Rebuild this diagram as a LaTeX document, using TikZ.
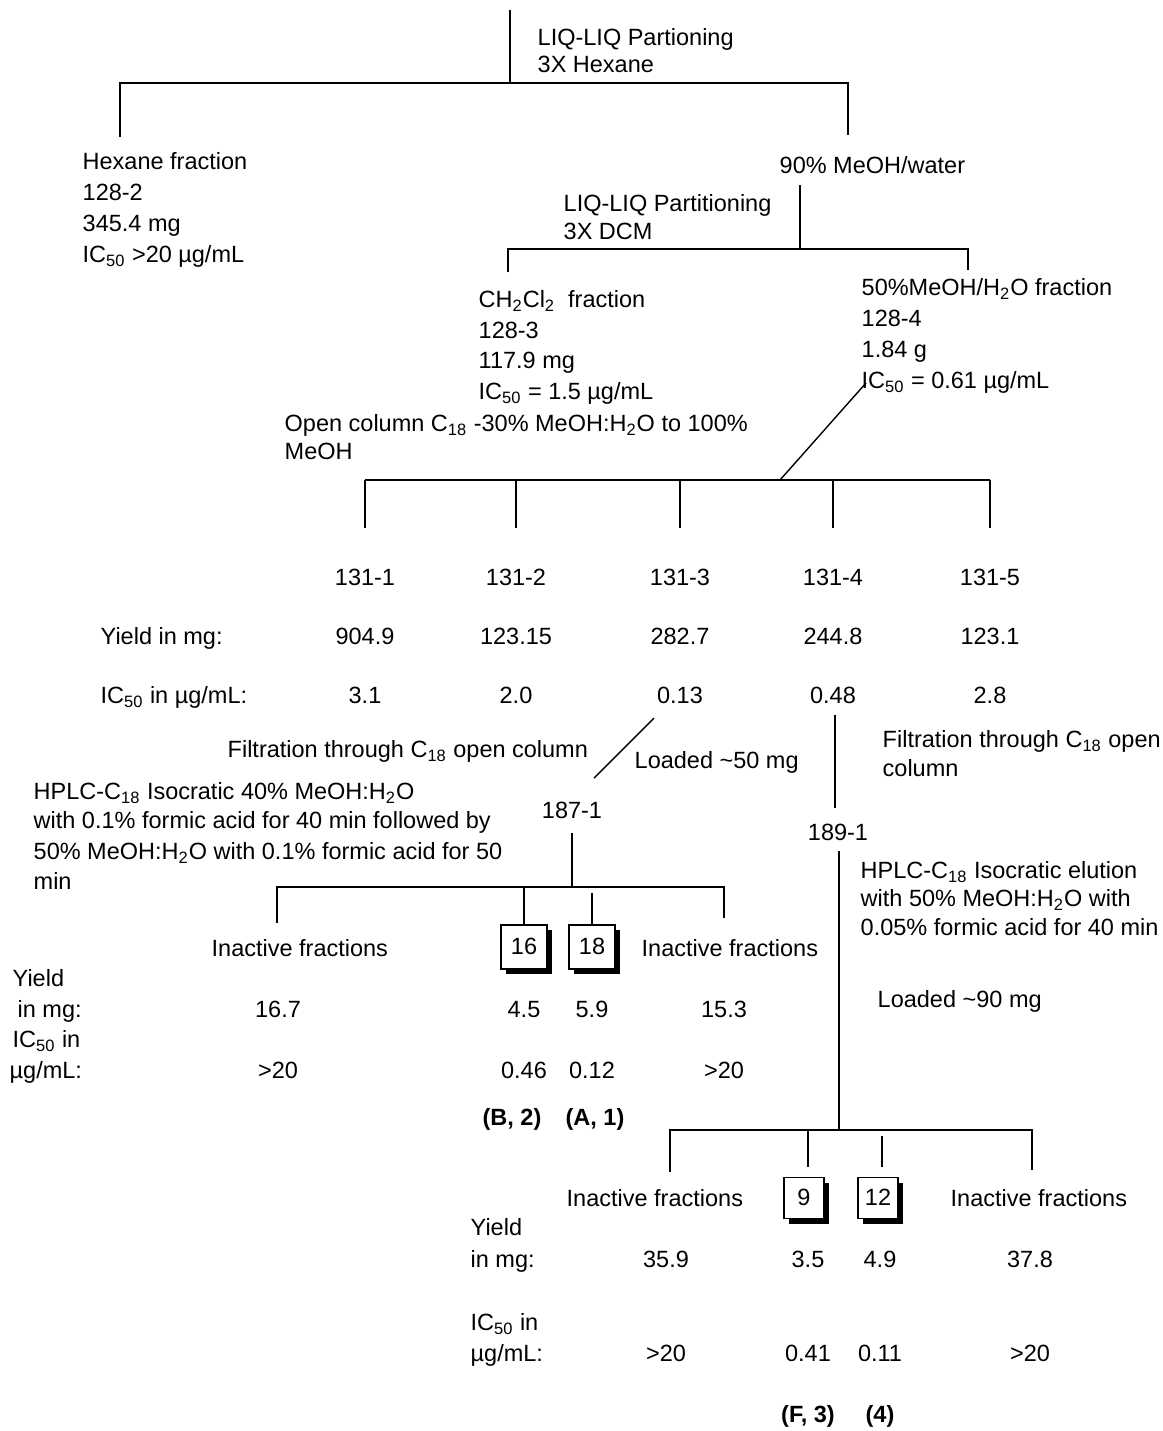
\documentclass[tikz,border=0pt]{standalone}
\usepackage{fontspec}
\setmainfont{Liberation Sans}
\usetikzlibrary{shadows}
\newcommand{\lowtxt}[1]{\textsubscript{#1}}

\begin{document}
\begin{tikzpicture}[x=0.5pt,y=-0.5pt,line width=0.7pt,
    every node/.style={inner sep=0pt,font=\fontsize{11.75}{14}\selectfont},
    txt/.style={anchor=west,text height=1.4ex,text depth=0pt},
    num/.style={text height=1.4ex,text depth=0pt},
    cpd/.style={num,font=\bfseries\fontsize{11.75}{14}\selectfont},
    fracbox/.style={draw,fill=white,num,minimum width=23pt,minimum height=22pt,
      drop shadow={shadow xshift=2.5pt,shadow yshift=-2.5pt,fill=black,opacity=1}},
    smallbox/.style={fracbox,minimum width=20pt,minimum height=20.5pt}]
  \useasboundingbox (0,0) rectangle (1163,1431);

  % first partitioning
  \coordinate (top) at (510,10);
  \coordinate (j1) at (510,83);
  \coordinate (b1l) at (120,83);
  \coordinate (b1r) at (848,83);
  \coordinate (hexup) at (120,137);
  \coordinate (meup) at (848,135);
  \node[txt] (liq1a) at (537,38) {LIQ-LIQ Partioning};
  \node[txt] (liq1b) at (537,65) {3X Hexane};
  \draw (top) -- (j1);
  \draw (hexup) -- (b1l) -- (b1r) -- (meup);
  \foreach \t [count=\i] in {Hexane fraction, 128-2, 345.4 mg, IC\lowtxt{50} >20 µg/mL}
    \node[txt] (hex\i) at (82,{162+31*(\i-1)}) {\t};
  \node[txt] (meoh) at (779,166) {90\% MeOH/water};

  % second partitioning
  \coordinate (j2) at (800,185);
  \coordinate (b2m) at (800,249);
  \coordinate (b2l) at (508,249);
  \coordinate (b2r) at (968,249);
  \coordinate (dcmup) at (508,272);
  \coordinate (aqup) at (968,270);
  \node[txt] (liq2a) at (563,204) {LIQ-LIQ Partitioning};
  \node[txt] (liq2b) at (563,232) {3X DCM};
  \draw (j2) -- (b2m);
  \draw (dcmup) -- (b2l) -- (b2r) -- (aqup);
  \foreach \t [count=\i] in {CH\lowtxt{2}Cl\lowtxt{2}~ fraction, 128-3, 117.9 mg, IC\lowtxt{50} = 1.5 µg/mL}
    \node[txt] (dcm\i) at (478,{300+30.7*(\i-1)}) {\t};
  \foreach \t [count=\i] in {50\%MeOH/H\lowtxt{2}O fraction, 128-4, 1.84 g, IC\lowtxt{50} = 0.61 µg/mL}
    \node[txt] (aq\i) at (861,{288+31*(\i-1)}) {\t};

  % open column
  \node[txt] (oc1) at (284,424) {Open column C\lowtxt{18} -30\% MeOH:H\lowtxt{2}O to 100\%};
  \node[txt] (oc2) at (284,452) {MeOH};
  \coordinate (d1a) at (866,383);
  \coordinate (d1b) at (780,480);
  \draw (d1a) -- (d1b);
  \draw (365,480) -- (990,480);
  \node[txt] (yl1) at (100,637) {Yield in mg:};
  \node[txt] (ic1) at (100,696) {IC\lowtxt{50} in µg/mL:};
  \foreach \x/\id/\yv/\icv [count=\i] in {365/131-1/904.9/3.1, 516/131-2/123.15/2.0,
      680/131-3/282.7/0.13, 833/131-4/244.8/0.48, 990/131-5/123.1/2.8} {
    \coordinate (c\i) at (\x,480);
    \coordinate (cd\i) at (\x,528);
    \draw (c\i) -- (cd\i);
    \node[num] (f\i) at (\x,578) {\id};
    \node[num] (fy\i) at (\x,637) {\yv};
    \node[num] (fi\i) at (\x,696) {\icv};
  }

  % 131-3 branch
  \node[txt] (filt1) at (227,750) {Filtration through C\lowtxt{18} open column};
  \node[txt] (load1) at (634,761) {Loaded \textasciitilde50 mg};
  \coordinate (d2a) at (654,718);
  \coordinate (d2b) at (594,778);
  \draw (d2a) -- (d2b);
  \node[num] (n187) at (572,811) {187-1};
  \foreach \t/\yy [count=\i] in {HPLC-C\lowtxt{18} Isocratic 40\% MeOH:H\lowtxt{2}O/792,
      with 0.1\% formic acid for 40 min followed by/821,
      50\% MeOH:H\lowtxt{2}O with 0.1\% formic acid for 50/852, min/882}
    \node[txt] (hp\i) at (33,\yy) {\t};
  \coordinate (j187) at (572,833);
  \coordinate (b4m) at (572,887);
  \coordinate (b4l) at (277,887);
  \coordinate (b4r) at (724,887);
  \node[fracbox] (box16) at (524,947) {16};
  \node[fracbox] (box18) at (592,947) {18};
  \draw (j187) -- (b4m);
  \draw (277,923) -- (b4l) -- (b4r) -- (724,918);
  \draw (524,887) -- (box16.north);
  \draw (592,893) -- (box18.north);
  \node[txt] (ina1) at (211,949) {Inactive fractions};
  \node[txt] (ina2) at (641,949) {Inactive fractions};
  \node[txt] (yl2a) at (12,979) {Yield};
  \node[txt] (yl2b) at (17,1010) {in mg:};
  \node[txt] (ic2a) at (12,1040) {IC\lowtxt{50} in};
  \node[txt] (ic2b) at (9,1071) {µg/mL:};
  \foreach \x/\yv/\icv [count=\i] in {278/16.7/>20, 524/4.5/0.46, 592/5.9/0.12, 724/15.3/>20} {
    \node[num] (gy\i) at (\x,1010) {\yv};
    \node[num] (gi\i) at (\x,1071) {\icv};
  }
  \node[cpd] (cpdB) at (512,1118) {(B, 2)};
  \node[cpd] (cpdA) at (595,1118) {(A, 1)};

  % 131-4 branch
  \coordinate (v4a) at (835,715);
  \coordinate (v4b) at (835,808);
  \draw (v4a) -- (v4b);
  \node[txt] (filt2a) at (882,740) {Filtration through C\lowtxt{18} open};
  \node[txt] (filt2b) at (882,769) {column};
  \node[num] (n189) at (838,833) {189-1};
  \foreach \t [count=\i] in {HPLC-C\lowtxt{18} Isocratic elution, with 50\% MeOH:H\lowtxt{2}O with,
      0.05\% formic acid for 40 min}
    \node[txt] (he\i) at (860,{871+28.5*(\i-1)}) {\t};
  \node[txt] (load2) at (877,1000) {Loaded \textasciitilde90 mg};
  \coordinate (j189) at (839,851);
  \coordinate (b5m) at (839,1130);
  \coordinate (b5l) at (670,1130);
  \coordinate (b5r) at (1032,1130);
  \node[smallbox] (box9) at (804,1198) {9};
  \node[smallbox] (box12) at (878,1198) {12};
  \draw (j189) -- (b5m);
  \draw (670,1172) -- (b5l) -- (b5r) -- (1032,1170);
  \draw (808,1130) -- (808,1167);
  \draw (882,1136) -- (882,1167);
  \node[txt] (ina3) at (566,1199) {Inactive fractions};
  \node[txt] (ina4) at (950,1199) {Inactive fractions};
  \node[txt] (yl3a) at (470,1228) {Yield};
  \node[txt] (yl3b) at (470,1260) {in mg:};
  \node[txt] (ic3a) at (470,1323) {IC\lowtxt{50} in};
  \node[txt] (ic3b) at (470,1354) {µg/mL:};
  \foreach \x/\yv/\icv [count=\i] in {666/35.9/>20, 808/3.5/0.41, 880/4.9/0.11, 1030/37.8/>20} {
    \node[num] (hy\i) at (\x,1260) {\yv};
    \node[num] (hi\i) at (\x,1354) {\icv};
  }
  \node[cpd] (cpdF) at (808,1415) {(F, 3)};
  \node[cpd] (cpd4) at (880,1415) {(4)};
\end{tikzpicture}
\end{document}
